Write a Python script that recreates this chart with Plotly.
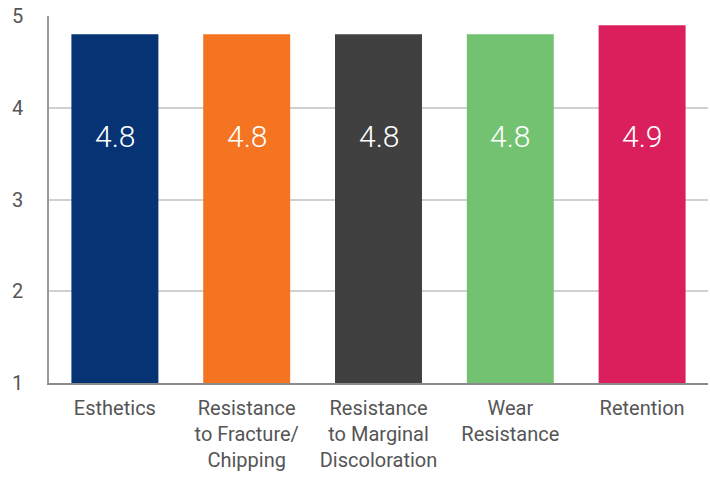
import plotly.graph_objects as go

categories = ["Esthetics", "Resistance<br>to Fracture/<br>Chipping", "Resistance<br>to Marginal<br>Discoloration",
              "Wear<br>Resistance", "Retention"]
values = [4.8, 4.8, 4.8, 4.8, 4.9]
labels = ["4.8", "4.8", "4.8", "4.8", "4.9"]
colors = ["#063373", "#F47421", "#404040", "#72C271", "#DA1F5C"]
y_ticks = [1, 2, 3, 4, 5]

FONT = "Roboto"
LABEL_Y = 3.69

fig = go.Figure()
fig.add_trace(go.Bar(
    x=categories, y=[v - 1 for v in values], base=1,
    marker=dict(color=colors, line=dict(width=0)),
    width=0.66, hoverinfo="skip",
))

for c, t in zip(categories, labels):
    fig.add_annotation(x=c, y=LABEL_Y, text=t, showarrow=False,
                       font=dict(family=FONT, size=30, color="white", weight=300))

fig.update_layout(
    width=710, height=478,
    margin=dict(l=49, r=2, t=16, b=95),
    paper_bgcolor="white", plot_bgcolor="white",
    showlegend=False,
    font=dict(family=FONT, color="#555555"),
)
fig.update_xaxes(
    showgrid=False, showline=True, linecolor="#8a8a8a", linewidth=1.5,
    tickfont=dict(size=20, family=FONT, color="#555555"),
    ticks="", ticklabelstandoff=6, automargin=False, ticklabeloverflow="allow",
)
fig.update_yaxes(
    range=[1, 5], tickvals=y_ticks, showgrid=True, gridcolor="#d0d0d0", gridwidth=1.5,
    showline=True, linecolor="#9a9a9a", linewidth=1.5, zeroline=False,
    tickfont=dict(size=20, family=FONT, color="#555555"),
    ticks="", ticklabelstandoff=20, automargin=False, ticklabeloverflow="allow",
)
fig.write_html("out.html", config={"displayModeBar": False},
               post_script="document.body.style.margin='0';document.body.style.overflow='hidden';")
